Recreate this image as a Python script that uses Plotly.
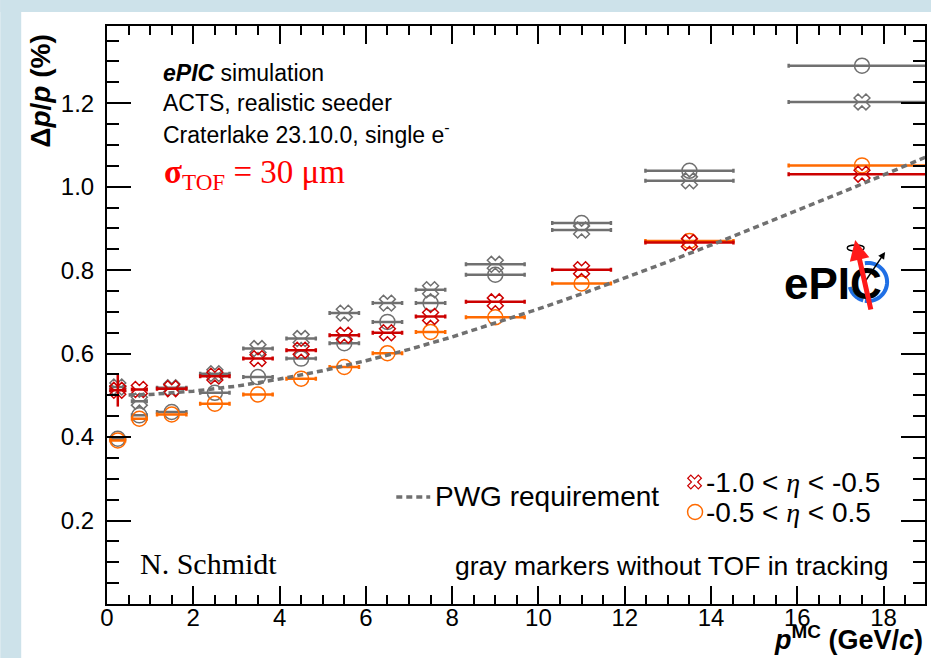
import math
import plotly.graph_objects as go

# ---------------- data ----------------
# bin centres in p (GeV/c) and horizontal error half-widths
p_center = [0.25, 0.75, 1.5, 2.5, 3.5, 4.5, 5.5, 6.5, 7.5, 9.0, 11.0, 13.5, 17.5]
p_halfwidth = [0.17, 0.17, 0.34, 0.34, 0.34, 0.34, 0.34, 0.34, 0.34, 0.68, 0.68, 1.02, 1.7]

# momentum resolution dp/p (%) with TOF in tracking
res_fwd_tof = [0.512, 0.514, 0.516, 0.546, 0.588, 0.608, 0.644, 0.650, 0.689, 0.724, 0.801, 0.866, 1.030]
err_fwd_tof = [0.039, 0, 0, 0, 0, 0, 0, 0, 0, 0, 0, 0, 0]
res_cen_tof = [0.392, 0.444, 0.454, 0.480, 0.502, 0.540, 0.568, 0.601, 0.652, 0.687, 0.768, 0.870, 1.051]

# same without TOF (gray markers)
res_fwd_notof = [0.520, 0.486, 0.518, 0.552, 0.612, 0.636, 0.697, 0.721, 0.753, 0.814, 0.896, 1.014, 1.203]
res_cen_notof = [0.396, 0.452, 0.460, 0.506, 0.544, 0.588, 0.625, 0.676, 0.721, 0.789, 0.913, 1.038, 1.290]

# PWG requirement curve
pwg_p = [0.5, 1, 2, 3, 4, 5, 6, 7, 8, 9, 10, 11, 12, 13, 14, 15, 16, 17, 18, 19]
pwg_res = [0.501, 0.502, 0.510, 0.522, 0.539, 0.559, 0.583, 0.610, 0.640, 0.673,
           0.707, 0.743, 0.781, 0.820, 0.860, 0.901, 0.943, 0.985, 1.028, 1.072]

y_tickvals = [0.2, 0.4, 0.6, 0.8, 1.0, 1.2]
y_ticktext = ["0.2", "0.4", "0.6", "0.8", "1.0", "1.2"]

# ---------------- style ----------------
W, H = 933, 658
ML, MR, MT, MB = 107, 6, 26, 54
PW, PH = W - ML - MR, H - MT - MB

RED = "#cc0000"
ORANGE = "#ff6a00"
GRAY = "#707070"
BLUE_BG = "#cde2ea"
SANS = "Liberation Sans"
SERIF = "Liberation Serif"


def fx(px):
    """pixel x -> paper x"""
    return (px - ML) / PW


def fy(py):
    """pixel y (from top) -> paper y"""
    return (H - MB - py) / PH


def series(y, color, symbol, size, yerr=None):
    return go.Scatter(
        x=p_center, y=y, mode="markers", showlegend=False,
        marker=dict(symbol=symbol, size=size, color=color,
                    line=dict(color=color, width=1.5)),
        error_x=dict(type="data", array=p_halfwidth, color=color,
                     thickness=2.5, width=2),
        error_y=dict(type="data", array=yerr if yerr else [0] * len(y),
                     color=color, thickness=2.5, width=0),
    )


fig = go.Figure()
fig.add_trace(series(res_cen_notof, GRAY, "circle-open", 15))
fig.add_trace(series(res_fwd_notof, GRAY, "x-open", 14))
fig.add_trace(series(res_cen_tof, ORANGE, "circle-open", 15))
fig.add_trace(series(res_fwd_tof, RED, "x-open", 14, err_fwd_tof))
fig.add_trace(go.Scatter(x=pwg_p, y=pwg_res, mode="lines", showlegend=False,
                         line=dict(color=GRAY, width=3.5, dash="6px,4px")))

shapes = []
# light blue frame around the white canvas
shapes.append(dict(type="rect", xref="paper", yref="paper", layer="below",
                   x0=fx(0), x1=fx(21), y0=fy(H), y1=fy(0),
                   fillcolor=BLUE_BG, line=dict(width=0)))
shapes.append(dict(type="rect", xref="paper", yref="paper", layer="below",
                   x0=fx(0), x1=fx(W), y0=fy(12), y1=fy(0),
                   fillcolor=BLUE_BG, line=dict(width=0)))

# legend swatches
shapes.append(dict(type="line", xref="paper", yref="paper",
                   x0=fx(397), x1=fx(431), y0=fy(497), y1=fy(497),
                   line=dict(color=GRAY, width=3.5, dash="6px,4px")))


def open_x_path(cx, cy, arm, half):
    # outline of a diagonal cross centred at (cx, cy), pixel units
    pts = []
    base = [(half, arm), (arm, arm), (arm, half), (-arm, half), (-arm, arm), (-half, arm),
            (-half, -arm), (-arm, -arm), (-arm, -half), (arm, -half), (arm, -arm), (half, -arm)]
    c, s = math.cos(math.pi / 4), math.sin(math.pi / 4)
    for x, y in base:
        rx, ry = x * c - y * s, x * s + y * c
        pts.append((fx(cx + rx), fy(cy + ry)))
    return "M" + " L".join(f"{a:.5f},{b:.5f}" for a, b in pts) + " Z"


shapes.append(dict(type="path", xref="paper", yref="paper",
                   path=open_x_path(696, 482, 2.2, 7.5),
                   line=dict(color=RED, width=1.2)))
shapes.append(dict(type="circle", xref="paper", yref="paper",
                   x0=fx(689), x1=fx(704), y0=fy(519.5), y1=fy(504.5),
                   line=dict(color=ORANGE, width=1.5)))


# ePIC logo: blue ring arcs and small ellipse
def arc_path(cx, cy, r, a0, a1, n=40):
    pts = []
    for i in range(n + 1):
        a = math.radians(a0 + (a1 - a0) * i / n)
        pts.append((fx(cx + r * math.cos(a)), fy(cy - r * math.sin(a))))
    return "M" + " L".join(f"{a:.5f},{b:.5f}" for a, b in pts)


RING_X, RING_Y, RING_R = 870, 282, 19
shapes.append(dict(type="path", xref="paper", yref="paper", layer="above",
                   path=arc_path(RING_X, RING_Y, RING_R, 100, -100),
                   line=dict(color="#1f6fe5", width=4)))
shapes.append(dict(type="path", xref="paper", yref="paper", layer="above",
                   path=arc_path(RING_X, RING_Y, RING_R, 195, 255),
                   line=dict(color="#1f6fe5", width=4)))
shapes.append(dict(type="circle", xref="paper", yref="paper", layer="above",
                   x0=fx(849), x1=fx(866), y0=fy(251), y1=fy(245),
                   line=dict(color="black", width=1.3)))

ann = []


def text(px, py, s, size, family=SANS, color="black", xanchor="left"):
    ann.append(dict(xref="paper", yref="paper", x=fx(px), y=fy(py), text=s,
                    showarrow=False, xanchor=xanchor, yanchor="middle",
                    font=dict(family=family, size=size, color=color)))


text(161, 73, "<b><i>ePIC</i></b> simulation", 23)
text(161, 103, "ACTS, realistic seeder", 23)
text(161, 133, "Craterlake 23.10.0, single e<sup>-</sup>", 23)
text(162, 174, "<b>σ</b><sub>TOF</sub> = 30 μm", 33, SERIF, "#ff0000")
text(138, 563, "N. Schmidt", 30, SERIF)
text(892, 566, "gray markers without TOF in tracking", 26.5, xanchor="right")
text(434, 497, "PWG requirement", 28)
eta = "<span style=\"font-family:'Liberation Serif';font-style:italic\">η</span>"
text(705, 482, f"-1.0 &lt; {eta} &lt; -0.5", 28)
text(705, 512, f"-0.5 &lt; {eta} &lt; 0.5", 28)

# axis titles
ann.append(dict(xref="paper", yref="paper", x=fx(40), y=fy(33), textangle=-90,
                text="<b>Δ<i>p</i>/<i>p</i> (%)</b>", showarrow=False,
                xanchor="center", yanchor="top",
                font=dict(family=SANS, size=28, color="black")))
ann.append(dict(xref="paper", yref="paper", x=fx(927), y=fy(638),
                text="<b><i>p</i><sup>MC</sup> (GeV/<i>c</i>)</b>", showarrow=False,
                xanchor="right", yanchor="middle",
                font=dict(family=SANS, size=27, color="black")))

# ePIC logo text and arrows
ann.append(dict(xref="paper", yref="paper", x=fx(835), y=fy(283), text="<b>ePIC</b>",
                showarrow=False, xanchor="center", yanchor="middle",
                font=dict(family=SANS, size=44, color="black")))
ann.append(dict(xref="paper", yref="paper", x=fx(887), y=fy(252), text="",
                showarrow=True, axref="pixel", ayref="pixel", ax=-21, ay=31,
                arrowhead=2, arrowsize=1, arrowwidth=1.4, arrowcolor="black"))
ann.append(dict(xref="paper", yref="paper", x=fx(857), y=fy(240), text="",
                showarrow=True, axref="pixel", ayref="pixel", ax=16, ay=71,
                arrowhead=2, arrowsize=0.8, arrowwidth=5, arrowcolor="#ff1a1a"))

axis_common = dict(showline=True, linecolor="black", linewidth=2, mirror="ticks",
                   ticks="inside", tickcolor="black", tickwidth=1.5,
                   showgrid=False, zeroline=False,
                   tickfont=dict(family=SANS, size=24, color="black"))

fig.update_layout(
    width=W, height=H, autosize=False,
    margin=dict(l=ML, r=MR, t=MT, b=MB, pad=0),
    paper_bgcolor="white", plot_bgcolor="white",
    showlegend=False,
    xaxis=dict(range=[0, 18.96], tick0=0, dtick=2, ticklen=18, ticklabelstandoff=-9,
               minor=dict(dtick=0.5, ticklen=9, ticks="inside", tickcolor="black",
                          tickwidth=1.5, showgrid=False),
               **axis_common),
    yaxis=dict(range=[0, 1.385], tickvals=y_tickvals, ticktext=y_ticktext, ticklen=24,
               ticklabelstandoff=6,
               minor=dict(dtick=0.05, ticklen=12, ticks="inside", tickcolor="black",
                          tickwidth=1.5, showgrid=False),
               **axis_common),
    shapes=shapes,
    annotations=ann,
)

fig.write_html("out.html")
